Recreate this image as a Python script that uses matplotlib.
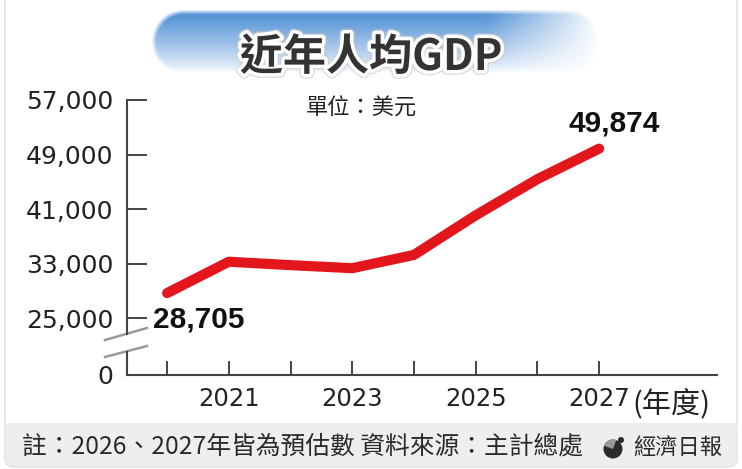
import numpy as np
import matplotlib
matplotlib.use("Agg")
import matplotlib.pyplot as plt
import matplotlib.patheffects as pe
from matplotlib.patches import FancyBboxPatch, Rectangle, Circle, Wedge
from matplotlib.lines import Line2D

# data
years = [2020, 2021, 2022, 2023, 2024, 2025, 2026, 2027]
gdp = [28705, 33300, 32800, 32350, 34300, 40100, 45400, 49874]
year_labels = ["", "2021", "", "2023", "", "2025", "", "2027"]
y_ticks = [25000, 33000, 41000, 49000, 57000]
y_floor = 16700          # where the broken axis shows "0"
first_label = "28,705"
last_label = "49,874"

cjk = ["Noto Sans CJK TC", "DejaVu Sans"]
W, H = 742, 469

fig = plt.figure(figsize=(W / 100, H / 100), dpi=100)
fig.patch.set_facecolor("white")

# background layer in reference pixel coordinates
bg = fig.add_axes([0, 0, 1, 1], zorder=0)
bg.set_xlim(0, W)
bg.set_ylim(H, 0)
bg.axis("off")

# card + grey footer band
bg.add_patch(FancyBboxPatch((5, -20), 732, 487, boxstyle="round,pad=0,rounding_size=9",
                            facecolor="white", edgecolor="#dddddd", lw=1.0, zorder=0.5))
bg.add_patch(FancyBboxPatch((5.5, 423), 731, 43.5, boxstyle="round,pad=0,rounding_size=9",
                            facecolor="#eeeeee", edgecolor="none", zorder=0.6))
bg.add_patch(Rectangle((5.5, 423), 731, 15, facecolor="#eeeeee", edgecolor="none", zorder=0.6))

# title pill with blue gradient
xs = np.arange(148, 606) + 0.5
ys = np.arange(6, 78) + 0.5
X, Y = np.meshgrid(xs, ys)
px = np.clip(X, 184, 568)
dist = np.sqrt((X - px) ** 2 + (Y - 42) ** 2) - 30
mask = np.clip(0.5 - dist / 5, 0, 1)
v = np.clip((74 - Y) / 58, 0, 1) ** 0.85
h = np.clip((602 - X) / 115, 0, 1)
a = mask * v * h * 0.97
blue = np.array([0.32, 0.57, 0.84])
img = np.ones(X.shape + (4,))
img[..., :3] = blue
img[..., 3] = a
bg.imshow(img, extent=[148, 606, 78, 6], origin="upper", aspect="auto",
          interpolation="bilinear", zorder=1)
bg.set_xlim(0, W)
bg.set_ylim(H, 0)

bg.text(371, 57, "近年人均GDP", ha="center", va="center", fontsize=31, fontweight="heavy",
        family=cjk, color="#333333", zorder=3,
        path_effects=[pe.withStroke(linewidth=7, foreground="#c8c8c8", alpha=0.6),
                      pe.withStroke(linewidth=5, foreground="white")])
bg.text(361, 108, "單位：美元", ha="center", va="center", fontsize=16, family=cjk,
        color="#222222", zorder=3)

# footer
bg.text(22, 447, "註：2026、2027年皆為預估數 資料來源：主計總處", ha="left", va="center",
        fontsize=17.8, family=cjk, color="#2a2a2a", zorder=3)
bg.text(722, 447, "經濟日報", ha="right", va="center", fontsize=16, family=cjk,
        color="#2a2a2a", zorder=3)
bg.add_patch(Circle((613, 449), 9.5, facecolor="#2b2b2b", edgecolor="none", zorder=3))
bg.add_patch(Wedge((613, 449), 9.5, 200, 290, facecolor="#9a9a9a", edgecolor="none", zorder=3))
bg.add_patch(Circle((621, 440), 3, facecolor="#2b2b2b", edgecolor="none", zorder=3))

# break marks on the y axis
bg.add_line(Line2D([105, 147], [340, 328], color="#9a9a9a", lw=1.8, zorder=3))
bg.add_line(Line2D([105, 147], [357, 346], color="#9a9a9a", lw=1.8, zorder=3))

bg.text(632, 404, "(年度)", ha="left", va="center", fontsize=21, family=cjk,
        color="#222222", zorder=3)

# main chart
ax = fig.add_axes([127 / W, 1 - 375 / H, 590 / W, 275 / H], zorder=1)
ax.patch.set_visible(False)
ax.plot(years, gdp, color="#e3161c", lw=7.3, solid_capstyle="round", solid_joinstyle="round",
        zorder=3, clip_on=False)

ax.set_xlim(2019.35, 2028.91)
ax.set_ylim(y_floor, 57000)
ax.set_xticks(years)
ax.set_xticklabels(year_labels)
ax.set_yticks([y_floor] + y_ticks)
ax.set_yticklabels(["0"] + [f"{t:,}" for t in y_ticks])

for s in ["top", "right", "left"]:
    ax.spines[s].set_visible(False)
ax.spines["bottom"].set_color("#444444")
ax.spines["bottom"].set_linewidth(1.5)

ax.tick_params(axis="x", direction="in", length=10, width=1.4, color="#444444",
               pad=9, labelsize=17.5, labelcolor="#222222")
ax.tick_params(axis="y", direction="in", length=14.5, width=1.4, color="#444444",
               pad=10, labelsize=18, labelcolor="#222222")

# broken left axis
ytr = ax.get_yaxis_transform()
ax.plot([0, 0], [57000, 22700], transform=ytr, color="#444444", lw=1.5, clip_on=False)
ax.plot([0, 0], [20100, y_floor], transform=ytr, color="#444444", lw=1.5, clip_on=False)

ax.annotate(first_label, (years[0], gdp[0]), xytext=(32, -26), textcoords="offset pixels",
            ha="center", va="center", fontsize=21.5, fontweight="bold",
            family="Liberation Sans", color="#111111")
ax.annotate(last_label, (years[-1], gdp[-1]), xytext=(15, 25), textcoords="offset pixels",
            ha="center", va="center", fontsize=21.5, fontweight="bold",
            family="Liberation Sans", color="#111111")

fig.savefig("out.png", dpi=100)
